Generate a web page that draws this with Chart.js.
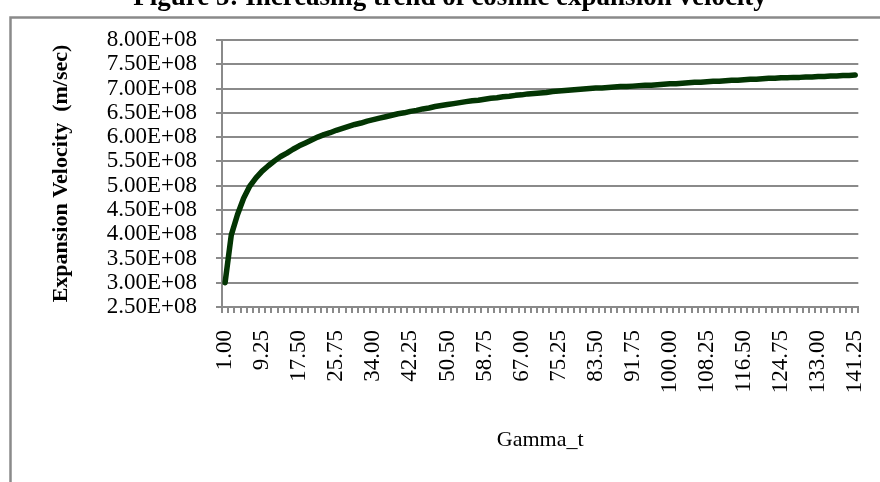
<!DOCTYPE html>
<html>
<head>
<meta charset="utf-8">
<script src="https://cdn.jsdelivr.net/npm/chart.js@4/dist/chart.umd.min.js"></script>
<style>
  html, body { margin: 0; padding: 0; background: #fff; }
  #wrap { position: relative; width: 880px; height: 482px; overflow: hidden; background: #fff; }
  #chart { position: absolute; left: 0; top: -18px; }
</style>
</head>
<body>
<div id="wrap"><canvas id="chart" width="900" height="500"></canvas></div>
<script>
(function () {
  'use strict';

  // Gamma_t categories (x axis)
  var gammaT = [
    1, 2.375, 3.75, 5.125, 6.5, 7.875, 9.25, 10.625, 12, 13.375,
    14.75, 16.125, 17.5, 18.875, 20.25, 21.625, 23, 24.375, 25.75, 27.125,
    28.5, 29.875, 31.25, 32.625, 34, 35.375, 36.75, 38.125, 39.5, 40.875,
    42.25, 43.625, 45, 46.375, 47.75, 49.125, 50.5, 51.875, 53.25, 54.625,
    56, 57.375, 58.75, 60.125, 61.5, 62.875, 64.25, 65.625, 67, 68.375,
    69.75, 71.125, 72.5, 73.875, 75.25, 76.625, 78, 79.375, 80.75, 82.125,
    83.5, 84.875, 86.25, 87.625, 89, 90.375, 91.75, 93.125, 94.5, 95.875,
    97.25, 98.625, 100, 101.375, 102.75, 104.125, 105.5, 106.875, 108.25, 109.625,
    111, 112.375, 113.75, 115.125, 116.5, 117.875, 119.25, 120.625, 122, 123.375,
    124.75, 126.125, 127.5, 128.875, 130.25, 131.625, 133, 134.375, 135.75, 137.125,
    138.5, 139.875, 141.25
  ];

  // expansion velocity, m/sec
  var velocity = [
    3.00e8, 3.98e8, 4.40e8, 4.74e8, 4.99e8, 5.16e8, 5.30e8, 5.41e8, 5.51e8, 5.60e8,
    5.67e8, 5.75e8, 5.82e8, 5.88e8, 5.94e8, 6.00e8, 6.05e8, 6.09e8, 6.14e8, 6.18e8,
    6.22e8, 6.26e8, 6.29e8, 6.33e8, 6.36e8, 6.39e8, 6.42e8, 6.45e8, 6.48e8, 6.50e8,
    6.53e8, 6.55e8, 6.58e8, 6.60e8, 6.63e8, 6.65e8, 6.67e8, 6.69e8, 6.71e8, 6.73e8,
    6.75e8, 6.76e8, 6.78e8, 6.80e8, 6.81e8, 6.83e8, 6.84e8, 6.86e8, 6.87e8, 6.89e8,
    6.90e8, 6.91e8, 6.92e8, 6.94e8, 6.95e8, 6.96e8, 6.97e8, 6.98e8, 6.99e8, 7.00e8,
    7.01e8, 7.01e8, 7.02e8, 7.03e8, 7.04e8, 7.04e8, 7.05e8, 7.06e8, 7.07e8, 7.07e8,
    7.08e8, 7.09e8, 7.10e8, 7.10e8, 7.11e8, 7.12e8, 7.13e8, 7.13e8, 7.14e8, 7.15e8,
    7.15e8, 7.16e8, 7.17e8, 7.17e8, 7.18e8, 7.19e8, 7.19e8, 7.20e8, 7.21e8, 7.21e8,
    7.22e8, 7.22e8, 7.23e8, 7.23e8, 7.24e8, 7.24e8, 7.25e8, 7.25e8, 7.26e8, 7.26e8,
    7.27e8, 7.27e8, 7.28e8
  ];

  var yTickValues = [
    2.5e8, 3.0e8, 3.5e8, 4.0e8, 4.5e8, 5.0e8, 5.5e8, 6.0e8,
    6.5e8, 7.0e8, 7.5e8, 8.0e8
  ];

  var labelEvery = 6;

  var serif = "'Liberation Serif', 'Times New Roman', serif";
  var axisGray = '#8a8a8a';

  function sciLabel(v) {
    var parts = Number(v).toExponential(2).split('e');
    var exp = parseInt(parts[1], 10);
    var sign = exp < 0 ? '-' : '+';
    var e = String(Math.abs(exp));
    if (e.length < 2) e = '0' + e;
    return parts[0] + 'E' + sign + e;
  }

  var framePlugin = {
    id: 'frame',
    beforeDraw: function (chart) {
      var ctx = chart.ctx;
      ctx.save();
      ctx.fillStyle = '#fff';
      ctx.fillRect(0, 0, chart.width, chart.height);
      ctx.strokeStyle = axisGray;
      ctx.lineWidth = 2.5;
      ctx.strokeRect(10.5, 35.5, 1000, 1000);
      ctx.restore();
    }
  };

  new Chart(document.getElementById('chart'), {
    type: 'line',
    data: {
      labels: gammaT,
      datasets: [{
        data: velocity,
        borderColor: '#033503',
        borderWidth: 5.5,
        borderCapStyle: 'round',
        borderJoinStyle: 'round',
        pointRadius: 0,
        tension: 0,
        fill: false
      }]
    },
    options: {
      responsive: false,
      animation: false,
      devicePixelRatio: 1,
      layout: { padding: 0 },
      plugins: {
        legend: { display: false },
        tooltip: { enabled: false },
        title: {
          display: true,
          text: 'Figure 5: Increasing trend of cosmic expansion velocity',
          color: '#000',
          font: { family: serif, size: 27, weight: 'bold', lineHeight: 1.2 },
          padding: { top: 0, bottom: 25.6 }
        }
      },
      scales: {
        x: {
          type: 'category',
          offset: true,
          grid: {
            offset: true,
            drawOnChartArea: false,
            drawTicks: true,
            tickLength: 6,
            color: axisGray,
            lineWidth: 2
          },
          border: { display: true, color: axisGray, width: 2 },
          ticks: {
            autoSkip: false,
            minRotation: 90,
            maxRotation: 90,
            padding: 17,
            color: '#000',
            font: { family: serif, size: 23 },
            callback: function (value, index) {
              return index % labelEvery === 0 ? gammaT[index].toFixed(2) : '';
            }
          },
          title: {
            display: true,
            text: 'Gamma_t',
            color: '#000',
            font: { family: serif, size: 22, lineHeight: 1.2 },
            padding: { top: 0, bottom: 28.8 }
          },
          afterFit: function (scale) { scale.height = 175; }
        },
        y: {
          min: 2.5e8,
          max: 8e8,
          afterBuildTicks: function (scale) {
            scale.ticks = yTickValues.map(function (v) { return { value: v }; });
          },
          grid: {
            color: axisGray,
            lineWidth: 2,
            drawTicks: true,
            tickLength: 6
          },
          border: { display: true, color: axisGray, width: 2 },
          ticks: {
            autoSkip: false,
            padding: 19,
            color: '#000',
            font: { family: serif, size: 23 },
            callback: function (value) { return sciLabel(value); }
          },
          title: {
            display: true,
            text: 'Expansion Velocity  (m/sec)',
            color: '#000',
            font: { family: serif, size: 22, weight: 'bold', lineHeight: 1.2 },
            padding: { top: 48, bottom: 0 }
          },
          afterFit: function (scale) { scale.width = 222; }
        },
        // empty right-side spacer so the plot ends at x = 864
        spacer: {
          type: 'linear',
          position: 'right',
          display: true,
          grid: { display: false, drawOnChartArea: false },
          border: { display: false },
          ticks: { display: false },
          afterFit: function (scale) { scale.width = 36; }
        }
      }
    },
    plugins: [framePlugin]
  });
})();
</script>
</body>
</html>
